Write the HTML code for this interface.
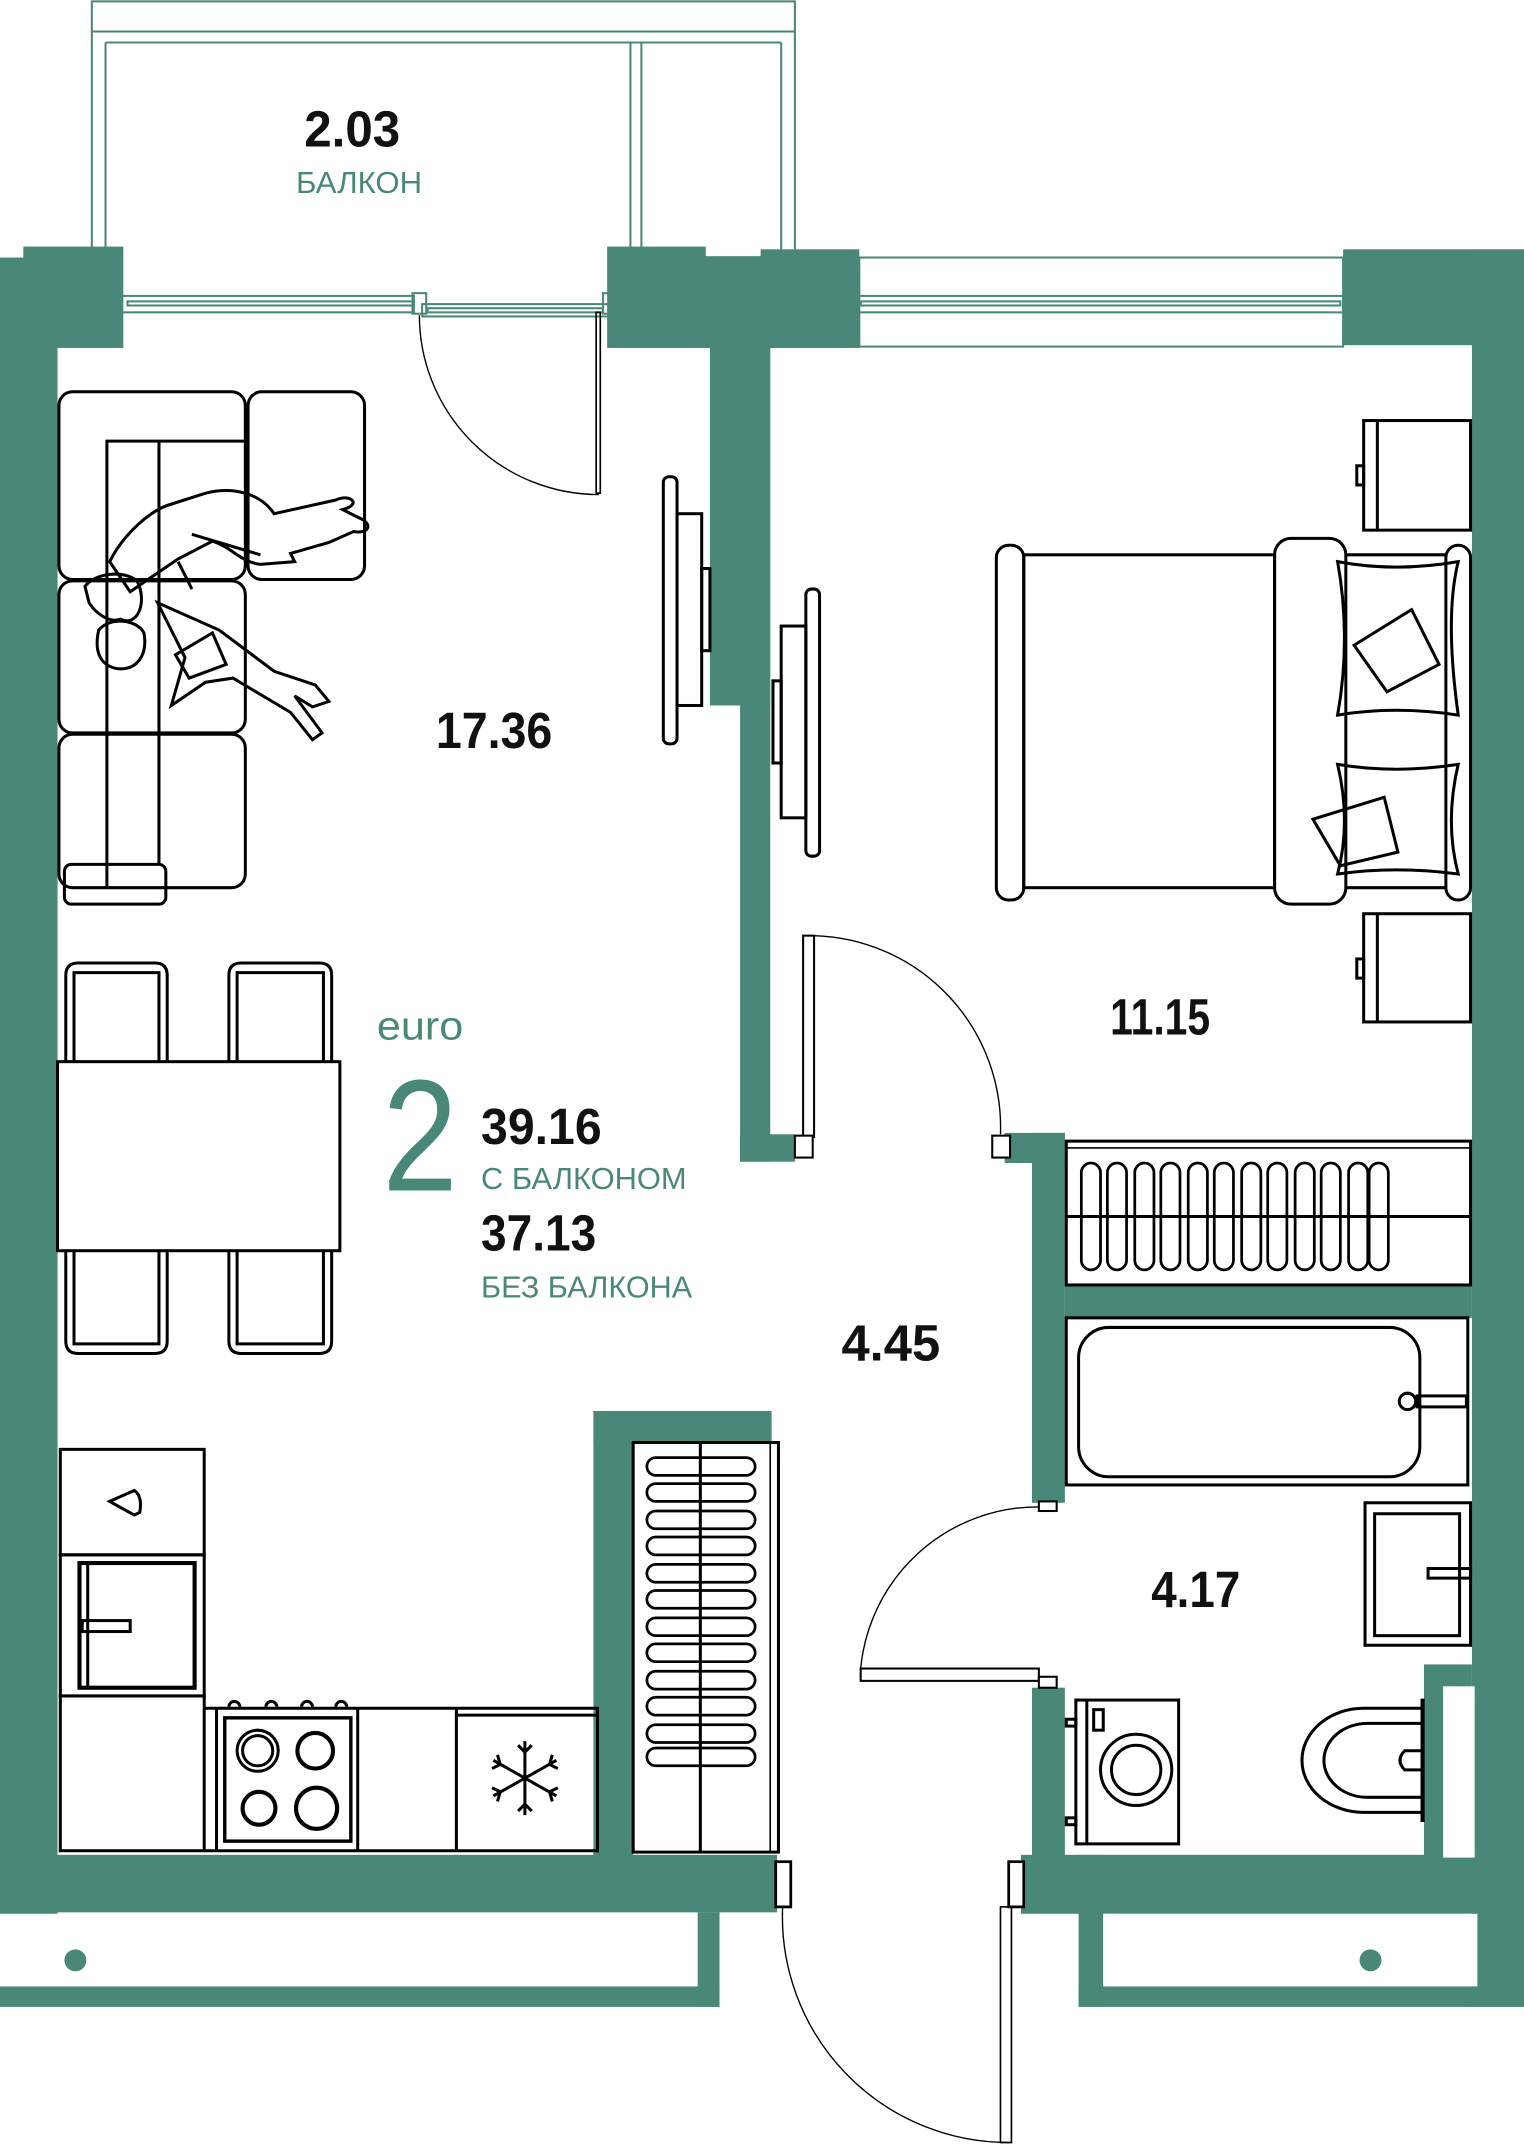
<!DOCTYPE html>
<html><head><meta charset="utf-8"><style>
html,body{margin:0;padding:0;background:#fff;width:1524px;height:2148px;overflow:hidden}
svg{display:block}
text{font-family:"Liberation Sans",sans-serif}
</style></head><body>
<svg width="1524" height="2148" viewBox="0 0 1112 1568" preserveAspectRatio="none" xmlns="http://www.w3.org/2000/svg">
<g fill="#498878">
<rect x="0" y="188" width="42" height="1210"/>
<rect x="17" y="180" width="73" height="74"/>
<rect x="443" y="180" width="72" height="74"/>
<rect x="555" y="182" width="72" height="72"/>
<rect x="455" y="187" width="160" height="67"/>
<rect x="518" y="250" width="44" height="265"/>
<rect x="540" y="250" width="22" height="598"/>
<rect x="540" y="828" width="40" height="20"/>
<rect x="980" y="182" width="132" height="70"/>
<rect x="1074" y="182" width="38" height="1283"/>
<rect x="733" y="827" width="44" height="22"/>
<rect x="753" y="827" width="24" height="270"/>
<rect x="777" y="938" width="297" height="24"/>
<rect x="753" y="1232" width="24" height="130"/>
<rect x="1039" y="1215" width="35" height="140"/>
<rect x="433" y="1030" width="130" height="23"/>
<rect x="433" y="1030" width="29" height="330"/>
<rect x="0" y="1354" width="567" height="42"/>
<rect x="0" y="1450" width="525" height="15"/>
<rect x="509" y="1396" width="16" height="69"/>
<rect x="745" y="1354" width="367" height="43"/>
<rect x="787" y="1354" width="18" height="111"/>
<rect x="787" y="1450" width="325" height="15"/>
</g>
<rect x="1053" y="1231" width="23" height="125" fill="#fff"/>
<rect x="805" y="1397" width="273" height="53" fill="#fff"/>
<rect x="0" y="1397" width="509" height="53" fill="#fff"/>
<g fill="#498878">
<circle cx="55" cy="1431" r="8"/>
<circle cx="1000" cy="1431" r="8"/>
</g>

<g fill="none" stroke="#498878" stroke-width="1.5">
<rect x="67" y="1" width="513" height="22"/>
<line x1="67" y1="23" x2="67" y2="182"/><line x1="77" y1="31" x2="77" y2="182"/>
<line x1="77" y1="31" x2="570" y2="31"/>
<line x1="460" y1="31" x2="460" y2="182"/><line x1="468" y1="31" x2="468" y2="182"/>
<line x1="570" y1="31" x2="570" y2="182"/><line x1="580" y1="23" x2="580" y2="182"/>
<rect x="82" y="216" width="220" height="12"/><rect x="93" y="220" width="208" height="3"/>
<rect x="301" y="214" width="10" height="15"/>
<rect x="308" y="222" width="136" height="9"/><rect x="312" y="225" width="128" height="3"/>
<rect x="440" y="214" width="10" height="15"/>
<rect x="627" y="188" width="353" height="65"/>
<rect x="620" y="216" width="360" height="12"/><rect x="628" y="220" width="350" height="3"/>
</g>

<g fill="none" stroke="#000">
<path d="M306 230 A131 131 0 0 0 437 361" stroke-width="1"/>
<rect x="435" y="228" width="3" height="132" stroke-width="1.2"/>
<path d="M594 683 A140 140 0 0 1 730 828" stroke-width="1"/>
<rect x="586" y="683" width="8" height="147" stroke-width="1.5"/>
<rect x="580" y="829" width="13" height="16" fill="#fff" stroke-width="1.5"/>
<rect x="724" y="829" width="13" height="16" fill="#fff" stroke-width="1.5"/>
<path d="M758 1100 A130 130 0 0 0 628 1218" stroke-width="1"/>
<rect x="628" y="1218" width="130" height="9" stroke-width="1.5"/>
<rect x="758" y="1096" width="13" height="7" fill="#fff" stroke-width="1.5"/>
<rect x="758" y="1224" width="13" height="8" fill="#fff" stroke-width="1.5"/>
<path d="M571 1393 A165 165 0 0 0 736 1564" stroke-width="1"/>
<rect x="730" y="1392" width="8" height="172" stroke-width="1.2"/>
<rect x="566" y="1359" width="11" height="33" fill="#fff" stroke-width="2"/>
<rect x="736" y="1359" width="11" height="33" fill="#fff" stroke-width="2"/>
</g>

<g fill="none" stroke="#000" stroke-width="2.2">
<rect x="484" y="348" width="10" height="195" rx="4"/>
<rect x="494" y="375" width="18" height="140"/>
<rect x="512" y="415" width="6" height="60"/>
<rect x="588" y="430" width="10" height="195" rx="4"/>
<rect x="570" y="457" width="18" height="140"/>
<rect x="564" y="497" width="6" height="60"/>
<rect x="43" y="286" width="136" height="137" rx="10"/>
<rect x="181" y="286" width="85" height="137" rx="10"/>
<rect x="43" y="424" width="136" height="111" rx="10"/>
<rect x="43" y="536" width="136" height="112" rx="10"/>
<path d="M179 322 H78 V647"/><line x1="116" y1="322" x2="116" y2="630"/>
<rect x="47" y="631" width="74" height="29" rx="5"/>
<path d="M80 410 C90 390 110 372 125 368 L150 360 C170 355 190 360 200 375 L245 365 C255 360 265 368 250 372 L262 378 C272 382 270 390 258 388 L240 396 L212 404 L215 410 L190 412 C175 410 170 400 155 395 L130 408 L105 425 L95 432 Z"/>
<path d="M140 390 L190 405 M130 410 L140 430"/>
<path d="M62 428 C70 418 90 416 100 424 C108 440 100 458 88 452 C80 455 70 448 65 440 Z"/>
<path d="M72 460 C80 450 100 452 105 462 C108 478 100 490 85 488 C75 486 68 478 72 460 Z"/>
<path d="M115 440 L160 460 L200 490 L230 500 L240 512 L228 516 L215 508 L235 535 L228 540 L212 520 L170 495 L150 498 L125 515 L135 480 Z"/>
<path d="M128 478 L155 462 L165 485 L138 495 Z"/>
<rect x="42" y="775" width="206" height="138"/>
<path d="M48 775 V712 Q48 703 57 703 H113 Q122 703 122 712 V775 M54 775 V710 H116 V775"/>
<path d="M167 775 V712 Q167 703 176 703 H233 Q242 703 242 712 V775 M173 775 V710 H236 V775"/>
<path d="M48 913 V979 Q48 988 57 988 H113 Q122 988 122 979 V913 M54 913 V981 H116 V913"/>
<path d="M167 913 V979 Q167 988 176 988 H233 Q242 988 242 979 V913 M173 913 V981 H236 V913"/>
<rect x="727" y="398" width="20" height="259" rx="9"/>
<rect x="747" y="405" width="183" height="243"/>
<rect x="930" y="393" width="52" height="267" rx="12"/>
<path d="M982 405 H1055 M982 648 H1055"/>
<rect x="1055" y="398" width="18" height="259" rx="9"/>
<path d="M976 410 Q1018 418 1064 410 Q1054 450 1064 522 Q1018 515 976 522 Q986 466 976 410 Z"/>
<path d="M976 558 Q1018 565 1064 558 Q1054 600 1064 638 Q1018 632 976 638 Q986 600 976 558 Z"/>
<path d="M988 471 L1030 445 L1050 485 L1012 505 Z"/>
<path d="M958 598 L1010 582 L1020 622 L978 632 Z"/>
<rect x="995" y="307" width="78" height="80"/><line x1="1005" y1="307" x2="1005" y2="387"/>
<rect x="990" y="340" width="5" height="14"/>
<rect x="995" y="667" width="78" height="79"/><line x1="1005" y1="667" x2="1005" y2="746"/>
<rect x="990" y="700" width="5" height="14"/>
<rect x="778" y="833" width="295" height="105"/>
<line x1="778" y1="838" x2="1073" y2="838" stroke-width="1.2"/>
<line x1="778" y1="888" x2="1073" y2="888"/>
<g stroke-width="2">
<rect x="789" y="849" width="14" height="78" rx="7"/><rect x="808" y="849" width="14" height="78" rx="7"/>
<rect x="828" y="849" width="14" height="78" rx="7"/><rect x="847" y="849" width="14" height="78" rx="7"/>
<rect x="867" y="849" width="14" height="78" rx="7"/><rect x="886" y="849" width="14" height="78" rx="7"/>
<rect x="906" y="849" width="14" height="78" rx="7"/><rect x="925" y="849" width="14" height="78" rx="7"/>
<rect x="945" y="849" width="14" height="78" rx="7"/><rect x="964" y="849" width="14" height="78" rx="7"/>
<rect x="984" y="849" width="14" height="78" rx="7"/><rect x="999" y="849" width="14" height="78" rx="7"/>
</g>
<rect x="778" y="962" width="293" height="122"/>
<rect x="787" y="969" width="249" height="109" rx="22"/>
<circle cx="1027" cy="1023" r="6"/><rect x="1034" y="1019" width="36" height="8"/>
<rect x="996" y="1097" width="77" height="104"/>
<rect x="1003" y="1105" width="62" height="89"/>
<rect x="1042" y="1145" width="31" height="7"/>
<path d="M1038 1247 H995 A45 38 0 0 0 995 1323 H1038"/>
<path d="M1038 1258 H998 A32 27 0 0 0 998 1312 H1038"/>
<path d="M1038 1278 H1025 Q1018 1285 1025 1292 H1038"/>
<line x1="1038" y1="1240" x2="1038" y2="1330" stroke-width="3"/>
<rect x="785" y="1241" width="75" height="105"/>
<line x1="793" y1="1241" x2="793" y2="1346"/>
<rect x="798" y="1248" width="7" height="15"/>
<circle cx="829" cy="1292" r="26"/><circle cx="829" cy="1292" r="18"/>
<rect x="778" y="1255" width="7" height="5"/><rect x="778" y="1327" width="7" height="5"/>
<rect x="44" y="1058" width="105" height="77"/>
<path d="M80 1096 L98 1088 Q104 1092 102 1104 L98 1106 Z"/>
<rect x="44" y="1135" width="105" height="103"/>
<rect x="58" y="1141" width="84" height="91" stroke-width="3"/>
<line x1="64" y1="1141" x2="64" y2="1232"/>
<rect x="60" y="1183" width="35" height="8"/>
<rect x="44" y="1238" width="105" height="113"/>
<path d="M149 1247 H436 V1351 H149"/>
<line x1="158" y1="1247" x2="158" y2="1351"/>
<line x1="261" y1="1247" x2="261" y2="1351"/>
<line x1="333" y1="1247" x2="333" y2="1351"/>
<line x1="333" y1="1252" x2="436" y2="1252"/>
<rect x="164" y="1254" width="92" height="90" stroke-width="2.5"/>
<circle cx="188" cy="1278" r="15"/><circle cx="188" cy="1278" r="11"/>
<circle cx="230" cy="1278" r="13" stroke-width="3"/>
<circle cx="189" cy="1320" r="12" stroke-width="3"/>
<circle cx="231" cy="1320" r="15" stroke-width="3"/>
<path d="M167 1246 a4 4 0 0 1 8 0 M194 1246 a4 4 0 0 1 8 0 M220 1246 a4 4 0 0 1 8 0 M245 1246 a4 4 0 0 1 8 0"/>
<g transform="translate(383 1298)">
<path d="M0 -27 V27 M-23 -13 L23 13 M-23 13 L23 -13"/>
<path d="M-5 -24 L0 -19 L5 -24 M-5 24 L0 19 L5 24 M-24 -7 L-18 -10 L-20 -17 M24 7 L18 10 L20 17 M-24 7 L-18 10 L-20 17 M24 -7 L18 -10 L20 -17"/>
</g>
<rect x="462" y="1053" width="106" height="299"/>
<line x1="511" y1="1053" x2="511" y2="1352"/>
<line x1="562" y1="1053" x2="562" y2="1352" stroke-width="1.2"/>
<g stroke-width="2">
<rect x="472" y="1064" width="79" height="13" rx="6.5"/><rect x="472" y="1083" width="79" height="13" rx="6.5"/>
<rect x="472" y="1103" width="79" height="13" rx="6.5"/><rect x="472" y="1122" width="79" height="13" rx="6.5"/>
<rect x="472" y="1142" width="79" height="13" rx="6.5"/><rect x="472" y="1161" width="79" height="13" rx="6.5"/>
<rect x="472" y="1181" width="79" height="13" rx="6.5"/><rect x="472" y="1200" width="79" height="13" rx="6.5"/>
<rect x="472" y="1220" width="79" height="13" rx="6.5"/><rect x="472" y="1239" width="79" height="13" rx="6.5"/>
<rect x="472" y="1259" width="79" height="13" rx="6.5"/><rect x="472" y="1276" width="79" height="13" rx="6.5"/>
</g>
</g>

<g font-weight="bold" fill="#111" font-size="37">
<text x="222" y="107" textLength="70" lengthAdjust="spacingAndGlyphs">2.03</text>
<text x="318" y="546" textLength="85" lengthAdjust="spacingAndGlyphs">17.36</text>
<text x="810" y="755" textLength="73" lengthAdjust="spacingAndGlyphs">11.15</text>
<text x="614" y="993" textLength="72" lengthAdjust="spacingAndGlyphs">4.45</text>
<text x="840" y="1173" textLength="65" lengthAdjust="spacingAndGlyphs">4.17</text>
<text x="351" y="835" textLength="88" lengthAdjust="spacingAndGlyphs">39.16</text>
<text x="351" y="913" textLength="84" lengthAdjust="spacingAndGlyphs">37.13</text>
</g>
<g fill="#498878">
<text x="216" y="141" font-size="22" textLength="92" lengthAdjust="spacingAndGlyphs">БАЛКОН</text>
<text x="275" y="759" font-size="29" textLength="63" lengthAdjust="spacingAndGlyphs">euro</text>
<text x="279" y="869" font-size="116" textLength="55" lengthAdjust="spacingAndGlyphs">2</text>
<text x="351" y="868" font-size="22" textLength="150" lengthAdjust="spacingAndGlyphs">С БАЛКОНОМ</text>
<text x="351" y="947" font-size="22" textLength="154" lengthAdjust="spacingAndGlyphs">БЕЗ БАЛКОНА</text>
</g>
</svg>
</body></html>
